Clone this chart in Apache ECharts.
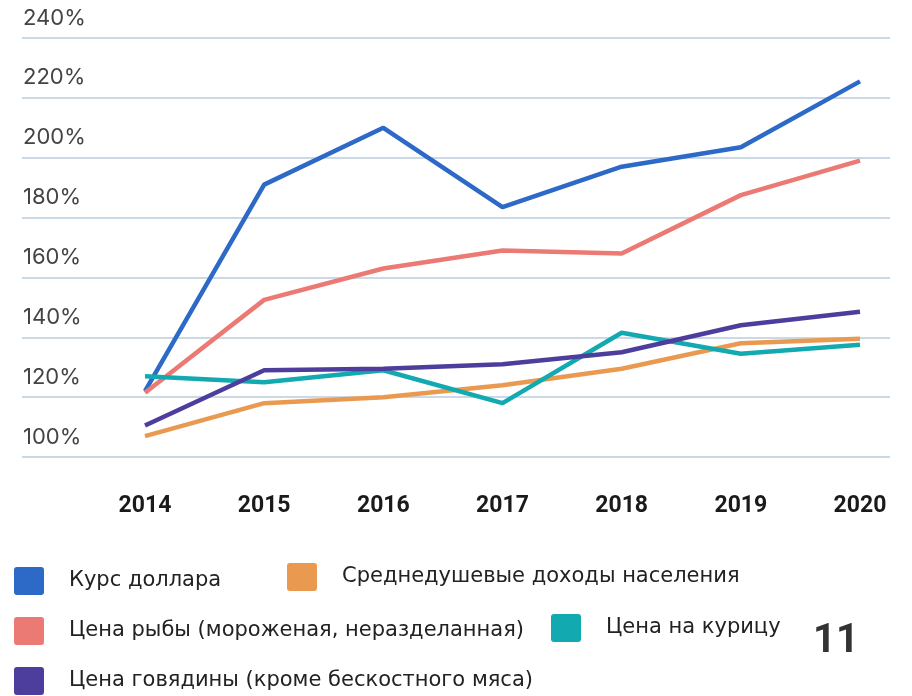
<!DOCTYPE html>
<html>
<head>
<meta charset="utf-8">
<script src="https://cdn.jsdelivr.net/npm/echarts@6/dist/echarts.min.js"></script>
<style>
  html, body { margin: 0; padding: 0; background: #fff; }
  #chart { width: 912px; height: 696px; }
</style>
</head>
<body>
<div id="chart"></div>
<script>
const years = ['2014', '2015', '2016', '2017', '2018', '2019', '2020']
const dollar = [122, 191, 210, 183.5, 197, 203.5, 225.5]
const income = [107, 118, 120, 124, 129.5, 138, 139.5]
const fish = [121.5, 152.5, 163, 169, 168, 187.5, 199]
const chicken = [127, 125, 129, 118, 141.5, 134.5, 137.5]
const beef = [110.5, 129, 129.5, 131, 135, 144, 148.5]
const yTicks = { min: 100, max: 240, step: 20 }

const names = [
  'Курс доллара',
  'Среднедушевые доходы населения',
  'Цена рыбы (мороженая, неразделанная)',
  'Цена на курицу',
  'Цена говядины (кроме бескостного мяса)'
]
const colors = ['#2d69c6', '#e99a50', '#eb7a74', '#12aab0', '#4d3d9c']
const values = [dollar, income, fish, chicken, beef]

// square with slightly rounded corners for the legend markers
const boxIcon = 'path://M3,0H27Q30,0 30,3V25Q30,28 27,28H3Q0,28 0,25V3Q0,0 3,0Z'
const legendFont = { fontFamily: 'DejaVu Sans', fontSize: 21, color: '#222' }
function legendItem(name, left, top) {
  return {
    data: [name],
    left: left,
    top: top,
    padding: 0,
    icon: boxIcon,
    itemWidth: 30,
    itemHeight: 28,
    selectedMode: false,
    itemStyle: { borderWidth: 0 },
    textStyle: Object.assign({ padding: [0, 0, 0, 20] }, legendFont)
  }
}

const chart = echarts.init(document.getElementById('chart'))
chart.setOption({
  animation: false,
  grid: [
    { left: 22, right: 22, top: 38, height: 419 },
    { left: 145, right: 52, top: 38, height: 419 }
  ],
  xAxis: [
    { gridIndex: 0, type: 'category', data: years, show: false },
    {
      gridIndex: 1,
      type: 'category',
      data: years,
      boundaryGap: false,
      axisLine: { show: false },
      axisTick: { show: false },
      axisLabel: {
        margin: 38,
        fontFamily: 'Roboto',
        fontWeight: 'bold',
        fontSize: 23,
        color: '#1a1a1a'
      }
    }
  ],
  yAxis: [
    {
      gridIndex: 0,
      type: 'value',
      min: yTicks.min,
      max: yTicks.max,
      interval: yTicks.step,
      axisLine: { show: false },
      axisTick: { show: false },
      splitLine: { lineStyle: { color: '#cbd9e6', width: 2 } },
      axisLabel: {
        inside: true,
        margin: 1,
        verticalAlign: 'bottom',
        lineHeight: 24,
        padding: [0, 0, 8, 0],
        fontFamily: 'Inter',
        fontSize: 22,
        color: '#444',
        formatter: '{value}%'
      }
    },
    {
      gridIndex: 1,
      type: 'value',
      min: yTicks.min,
      max: yTicks.max,
      interval: yTicks.step,
      show: false,
      splitLine: { show: false }
    }
  ],
  legend: [
    legendItem(names[0], 14, 567),
    legendItem(names[1], 287, 563),
    legendItem(names[2], 14, 617),
    legendItem(names[3], 551, 614),
    legendItem(names[4], 14, 667)
  ],
  graphic: [
    {
      type: 'text',
      left: 813,
      top: 622,
      style: { text: '11', fontFamily: 'Roboto', fontWeight: 'bold', fontSize: 40, fill: '#333' }
    }
  ],
  series: names.map((name, i) => ({
    name: name,
    type: 'line',
    xAxisIndex: 1,
    yAxisIndex: 1,
    data: values[i],
    symbol: 'none',
    color: colors[i],
    lineStyle: { width: 4.5, color: colors[i] }
  }))
})
</script>
</body>
</html>
